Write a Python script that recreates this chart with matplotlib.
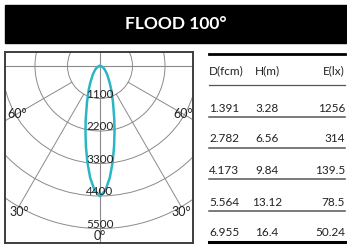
import numpy as np
import matplotlib.pyplot as plt
from matplotlib.patches import Circle, Rectangle
from matplotlib.lines import Line2D

plt.rcParams['font.family'] = ['Lato', 'DejaVu Sans']

W, H = 347, 246

# polar data (cd)
ring_values = [1100, 2200, 3300, 4400, 5500]
spoke_angles = [30, 60]
angle_labels = ["60°", "30°", "0°"]
beam_angles = [0, 2.5, 5, 7.5, 10, 12.5, 15, 20, 25, 30, 40, 50, 60, 70, 80, 90]
beam_cd = [4410, 4210, 3800, 3280, 2750, 2270, 1870, 1280, 910, 660, 380, 230, 145, 85, 40, 0]

# table data
columns = ["D(fcm)", "H(m)", "E(lx)"]
d_fcm = ["1.391", "2.782", "4.173", "5.564", "6.955"]
h_m = ["3.28", "6.56", "9.84", "13.12", "16.4"]
e_lx = ["1256", "314", "139.5", "78.5", "50.24"]

title = "FLOOD 100°"

fig = plt.figure(figsize=(W / 100, H / 100), dpi=100)

def fx(px):
    return px / W

def fy(py):
    return 1 - py / H

# title bar
fig.patches.append(Rectangle((fx(5), fy(43)), fx(347) - fx(5), fy(5) - fy(43),
                             transform=fig.transFigure, color='black', zorder=0))
fig.text(fx(176), fy(24), title, color='white', fontsize=12.5, fontweight='bold',
         ha='center', va='center')

# polar diagram
cx, cy = 100, 66
scale = 1100 / 32.5  # cd per pixel
ax = fig.add_axes([fx(5), fy(243), fx(193) - fx(5), fy(52) - fy(243)])
ax.set_xlim((5 - cx) * scale, (193 - cx) * scale)
ax.set_ylim((cy - 243) * scale, (cy - 52) * scale)
ax.set_xticks([])
ax.set_yticks([])
for sp in ax.spines.values():
    sp.set_linewidth(1.4)
    sp.set_color('#3d3d3d')

grid_c = '#8a8a8a'
for r in ring_values:
    ax.add_patch(Circle((0, 0), r, fill=False, lw=0.7, ec=grid_c, zorder=1))
ax.axhline(0, color=grid_c, lw=0.8, zorder=1)
ax.axvline(0, color=grid_c, lw=0.8, zorder=1)
for a in spoke_angles:
    t = np.radians(a)
    for s in (-1, 1):
        ax.plot([s * ring_values[0] * np.sin(t), s * ring_values[-1] * np.sin(t)],
                [-ring_values[0] * np.cos(t), -ring_values[-1] * np.cos(t)],
                color=grid_c, lw=0.7, zorder=1)

# beam curve
th = np.radians(np.array(beam_angles))
cd = np.array(beam_cd)
xs = np.concatenate([-(cd * np.sin(th))[::-1], cd * np.sin(th)])
ys = np.concatenate([-(cd * np.cos(th))[::-1], -cd * np.cos(th)])
ax.plot(xs, ys, color='#2bb6c6', lw=1.8, zorder=3, solid_joinstyle='round')

# ring labels
for r in ring_values:
    ax.text(0, -r + 30, str(r), ha='center', va='baseline', fontsize=8.5,
            color='#222222', zorder=4)

# angle labels
label_pos = {"60°": (60, 3250), "30°": (29, 5650), "0°": (0, 5760)}
for lab in angle_labels:
    a, r = label_pos[lab]
    t = np.radians(a)
    sides = (0,) if a == 0 else (-1, 1)
    for s in sides:
        ax.text(s * r * np.sin(t), -r * np.cos(t), lab, ha='center', va='center',
                fontsize=9, color='#222222', zorder=4)

# table
x0, x1 = 209, 345
col_x = [209, 267, 345]
col_ha = ['left', 'center', 'right']
header_y = 71
row_y = [108, 139, 171, 202, 233]
line_y = [117, 148, 179, 211]

def hline(py, lw, color):
    fig.lines.append(Line2D([fx(x0), fx(x1)], [fy(py), fy(py)], transform=fig.transFigure,
                            lw=lw, color=color))

hline(54, 2.0, 'black')
hline(85, 0.9, '#555555')
for py in line_y:
    hline(py, 1.1, '#555555')
hline(242, 2.2, 'black')

for x, ha, c in zip(col_x, col_ha, columns):
    fig.text(fx(x), fy(header_y), c, ha=ha, va='center', fontsize=8.5, color='#222222')
for i, py in enumerate(row_y):
    for x, ha, vals in zip(col_x, col_ha, [d_fcm, h_m, e_lx]):
        fig.text(fx(x), fy(py), vals[i], ha=ha, va='center', fontsize=8.5, color='#222222')

fig.savefig("out.png", dpi=100)
